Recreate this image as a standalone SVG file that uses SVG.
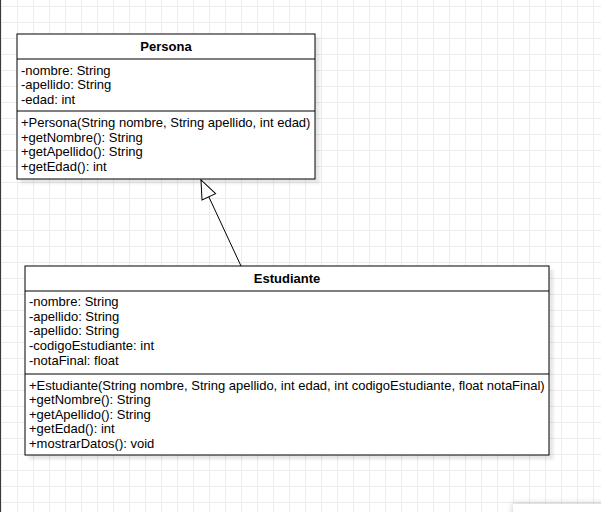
<svg xmlns="http://www.w3.org/2000/svg" width="601" height="512" viewBox="0 0 601 512">
  <defs>
    <pattern id="grid" x="1" y="6" width="16" height="16" patternUnits="userSpaceOnUse">
      <path d="M0 0.5H16M0.5 0V16" fill="none" stroke="#ececec" stroke-width="1"/>
    </pattern>
    <filter id="shadow" x="-10%" y="-10%" width="130%" height="130%">
      <feGaussianBlur in="SourceAlpha" stdDeviation="1.7"/>
      <feOffset dx="4" dy="4" result="b"/>
      <feComponentTransfer><feFuncA type="linear" slope="0.1"/></feComponentTransfer>
      <feMerge><feMergeNode/><feMergeNode in="SourceGraphic"/></feMerge>
    </filter>
    <filter id="panelShadow" x="-20%" y="-100%" width="140%" height="300%">
      <feGaussianBlur in="SourceAlpha" stdDeviation="3"/>
      <feComponentTransfer><feFuncA type="linear" slope="0.25"/></feComponentTransfer>
      <feMerge><feMergeNode/><feMergeNode in="SourceGraphic"/></feMerge>
    </filter>
    <marker id="inherit" viewBox="0 0 20 18" refX="19" refY="8" markerWidth="20" markerHeight="18" markerUnits="userSpaceOnUse" orient="auto" overflow="visible">
      <path d="M0.5,0.5 L19,8 L0.5,15.5 Z" fill="#fff" stroke="#000" stroke-width="1"/>
    </marker>
    <style>
      .box { fill: #fff; stroke: #000; stroke-width: 1; }
      .sep { stroke: #000; stroke-width: 1; }
      .t { font-family: "Liberation Sans", Arial, Helvetica, sans-serif; font-size: 13px; fill: #000; }
      .title { font-weight: bold; text-anchor: middle; }
      .edge { fill: none; stroke: #000; stroke-width: 1; }
    </style>
  </defs>

  <!-- canvas -->
  <rect x="0" y="0" width="601" height="512" fill="#fff"/>
  <rect x="0" y="0" width="601" height="512" fill="url(#grid)"/>
  <rect x="0" y="0" width="1" height="512" fill="#3a3a3a"/>

  <!-- class Persona -->
  <g id="persona">
    <rect class="box" x="17" y="34" width="298" height="145" filter="url(#shadow)"/>
    <line class="sep" x1="17" y1="59" x2="315" y2="59"/>
    <line class="sep" x1="17" y1="111" x2="315" y2="111"/>
    <text class="t title" x="166" y="51">Persona</text>
    <text class="t" x="21" y="74.5">-nombre: String</text>
    <text class="t" x="21" y="89">-apellido: String</text>
    <text class="t" x="21" y="103.5">-edad: int</text>
    <text class="t" x="21" y="127">+Persona(String nombre, String apellido, int edad)</text>
    <text class="t" x="21" y="141.5">+getNombre(): String</text>
    <text class="t" x="21" y="156">+getApellido(): String</text>
    <text class="t" x="21" y="170.5">+getEdad(): int</text>
  </g>

  <!-- class Estudiante -->
  <g id="estudiante">
    <rect class="box" x="25" y="266" width="524" height="189" filter="url(#shadow)"/>
    <line class="sep" x1="25" y1="291" x2="549" y2="291"/>
    <line class="sep" x1="25" y1="374" x2="549" y2="374"/>
    <text class="t title" x="287" y="283">Estudiante</text>
    <text class="t" x="29" y="306">-nombre: String</text>
    <text class="t" x="29" y="320.5">-apellido: String</text>
    <text class="t" x="29" y="335">-apellido: String</text>
    <text class="t" x="29" y="350">-codigoEstudiante: int</text>
    <text class="t" x="29" y="364.5">-notaFinal: float</text>
    <text class="t" x="29" y="390">+Estudiante(String nombre, String apellido, int edad, int codigoEstudiante, float notaFinal)</text>
    <text class="t" x="29" y="404">+getNombre(): String</text>
    <text class="t" x="29" y="418.5">+getApellido(): String</text>
    <text class="t" x="29" y="433">+getEdad(): int</text>
    <text class="t" x="29" y="447.5">+mostrarDatos(): void</text>
  </g>

  <!-- generalization: Estudiante extends Persona -->
  <g id="connectors">
    <path class="edge" d="M241,266 L201,180" marker-end="url(#inherit)"/>
  </g>

  <!-- panel edge at the lower right -->
  <rect x="513" y="504" width="110" height="30" fill="#fff" filter="url(#panelShadow)"/>
</svg>
